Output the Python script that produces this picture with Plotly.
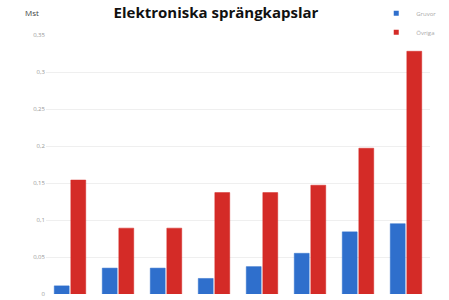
import plotly.graph_objects as go

categories = ["1", "2", "3", "4", "5", "6", "7", "8"]
gruvor = [0.011, 0.035, 0.035, 0.021, 0.037, 0.055, 0.084, 0.095]
ovriga = [0.154, 0.089, 0.089, 0.137, 0.137, 0.147, 0.197, 0.328]
tick_vals = [0, 0.05, 0.1, 0.15, 0.2, 0.25, 0.3, 0.35]
tick_text = ["0", "0,05", "0,1", "0,15", "0,2", "0,25", "0,3", "0,35"]
series_names = ["Gruvor", "Övriga"]
series_colors = ["#2f6fcc", "#d42b27"]

fig = go.Figure()
for name, vals, col in zip(series_names, [gruvor, ovriga], series_colors):
    fig.add_trace(go.Bar(x=categories, y=vals, name=name, showlegend=False,
                         marker=dict(color=col, line=dict(color=col, width=0.5))))
# legend entries with small square markers
for name, col in zip(series_names, series_colors):
    fig.add_trace(go.Scatter(x=[None], y=[None], mode="markers", name=name,
                             marker=dict(symbol="square", size=5, color=col)))

fig.update_layout(
    width=449, height=300,
    margin=dict(l=46, r=19, t=35, b=6, autoexpand=False),
    paper_bgcolor="white", plot_bgcolor="white",
    barmode="group", bargap=0.31, bargroupgap=0.1,
    font=dict(family="Open Sans, sans-serif", color="#888888", size=6),
    title=dict(text="<b>Elektroniska sprängkapslar</b>", x=0.481, xanchor="center",
               y=0.957, yanchor="middle",
               font=dict(family="Open Sans, sans-serif", size=15, color="#111111")),
    showlegend=True,
    legend=dict(x=0.86, y=1.14, xanchor="left", yanchor="top",
                font=dict(size=6, color="#aaaaaa"), bgcolor="rgba(0,0,0,0)",
                itemwidth=30, tracegroupgap=0),
    xaxis=dict(showticklabels=False, showgrid=False, zeroline=False, showline=False,
               ticks="", automargin=False),
    yaxis=dict(range=[0, 0.35], tickvals=tick_vals, ticktext=tick_text,
               showgrid=True, gridcolor="#efefef", gridwidth=1, zeroline=False,
               tickfont=dict(size=6, color="#999999"), ticklen=0, ticks="",
               automargin=False),
    annotations=[dict(text="Mst", x=-0.06, y=1.085, xref="paper", yref="paper",
                      showarrow=False, xanchor="left", yanchor="middle",
                      font=dict(size=8, color="#444444"))],
)

fig.write_html("out.html", config={"displayModeBar": False},
               post_script="document.body.style.margin='0';document.body.style.overflow='hidden';")
